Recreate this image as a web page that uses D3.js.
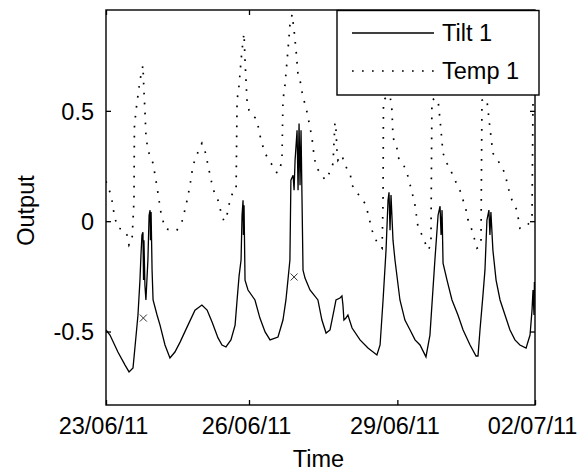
<!DOCTYPE html>
<html>
<head>
<meta charset="utf-8">
<script src="https://cdn.jsdelivr.net/npm/d3@7"></script>
<style>
  html, body { margin: 0; padding: 0; background: #fff; }
  svg { display: block; }
  text { font-family: "Liberation Sans", Arial, sans-serif; fill: #000; }
</style>
</head>
<body>
<div id="chart"></div>
<script>
// ---- data: time in hours since 23/06/11 00:00 ----
const tiltHours = [0,2.0,6.0,9.6,11.6,13.6,14.6,16.1,17.1,17.6,18.1,18.6,18.9,19.1,19.6,20.1,21.1,21.7,22.2,22.4,22.7,23.2,23.7,25.7,27.2,29.7,32.2,34.7,37.3,40.8,44.8,48.3,50.9,53.4,56.4,58.4,60.4,62.9,65.0,66.0,67.0,68.0,68.5,69.0,69.2,69.5,70.0,71.5,75.0,77.5,80.1,82.6,86.6,89.1,90.6,91.6,92.6,93.1,94.2,94.7,95.2,96.2,96.7,97.2,97.7,98.2,99.2,100.2,102.7,106.7,108.7,110.8,112.8,114.8,115.8,117.8,118.8,119.3,119.8,120.8,121.8,123.9,127.9,131.9,136.4,138.0,139.5,141.0,142.0,142.5,143.0,143.5,144.5,145.5,148.0,150.5,153.1,155.6,158.1,161.1,163.1,164.6,165.6,167.2,168.2,168.7,169.2,169.7,171.7,174.2,177.2,179.8,183.3,186.3,187.3,188.3,189.8,190.8,191.8,192.8,193.3,193.8,194.8,196.4,198.4,200.9,203.4,205.9,208.4,211.5,213.5,214.5,215.0,215.5,215.7];
const tiltValues = [-0.493,-0.516,-0.593,-0.652,-0.683,-0.665,-0.570,-0.425,-0.267,-0.154,-0.063,-0.050,-0.267,-0.086,-0.290,-0.357,-0.176,0.027,0.050,-0.086,0.041,-0.222,-0.357,-0.425,-0.471,-0.561,-0.620,-0.593,-0.548,-0.480,-0.403,-0.380,-0.403,-0.457,-0.529,-0.561,-0.570,-0.538,-0.471,-0.357,-0.249,-0.176,0.027,0.095,-0.063,0.072,-0.267,-0.312,-0.357,-0.439,-0.502,-0.538,-0.525,-0.448,-0.357,-0.267,-0.176,0.186,0.208,0.140,0.276,0.412,0.140,0.443,0.163,0.412,-0.222,-0.258,-0.312,-0.357,-0.448,-0.507,-0.493,-0.403,-0.357,-0.348,-0.339,-0.380,-0.448,-0.439,-0.425,-0.484,-0.538,-0.575,-0.606,-0.561,-0.357,-0.131,0.095,0.131,-0.041,0.118,-0.086,-0.176,-0.357,-0.448,-0.493,-0.538,-0.561,-0.615,-0.516,-0.312,-0.176,0.027,0.068,-0.063,0.050,-0.190,-0.267,-0.357,-0.425,-0.493,-0.561,-0.611,-0.611,-0.493,-0.335,-0.222,0.005,0.050,-0.063,0.041,-0.131,-0.267,-0.357,-0.425,-0.493,-0.538,-0.561,-0.575,-0.516,-0.403,-0.312,-0.425,-0.276];

const tempHours = [0,2.0,3.0,3.5,4.5,6.0,8.6,10.6,11.6,13.1,14.1,14.3,15.1,16.1,17.1,18.6,19.1,19.6,20.1,21.1,22.7,23.7,24.7,25.7,26.7,27.7,29.7,32.2,35.7,38.3,40.3,42.3,43.8,45.3,47.3,48.3,49.8,51.4,52.9,54.9,56.4,57.9,59.4,60.9,62.4,63.9,65.5,66.0,67.0,68.0,69.0,69.5,70.0,70.5,71.0,72.0,73.5,75.5,77.0,78.0,80.1,82.6,85.1,86.1,87.6,88.6,89.1,90.1,91.6,92.6,93.7,94.7,95.7,96.7,97.7,99.2,100.7,101.7,102.7,103.7,104.2,105.7,108.3,110.3,113.3,114.3,115.3,115.8,116.3,116.8,118.8,120.3,122.9,123.9,126.4,127.9,130.4,131.9,133.9,136.4,139.0,139.5,139.7,141.5,143.0,144.0,144.5,146.5,147.0,149.5,151.6,154.1,155.6,157.1,159.6,162.1,163.6,164.1,165.6,167.2,168.2,169.7,171.7,174.2,175.7,178.2,179.8,181.3,182.3,184.3,186.8,188.8,189.3,190.8,191.8,193.3,194.8,197.3,200.9,202.4,204.4,206.9,208.4,211.0,213.5,214.5,215.0,216.0];
const tempValues = [0.181,0.131,0.095,0.063,0.014,-0.032,-0.036,-0.063,-0.109,-0.086,0.095,0.425,0.502,0.570,0.638,0.706,0.593,0.502,0.389,0.321,0.285,0.262,0.208,0.154,0.095,0.036,-0.032,-0.041,-0.041,0.000,0.072,0.163,0.253,0.290,0.335,0.353,0.321,0.253,0.186,0.118,0.095,0.041,0.000,0.027,0.095,0.131,0.140,0.548,0.615,0.729,0.819,0.851,0.729,0.638,0.548,0.502,0.480,0.466,0.416,0.367,0.308,0.267,0.240,0.217,0.240,0.276,0.548,0.615,0.774,0.887,0.937,0.864,0.774,0.661,0.638,0.561,0.516,0.471,0.425,0.380,0.335,0.244,0.217,0.186,0.231,0.262,0.448,0.412,0.321,0.276,0.299,0.253,0.217,0.163,0.131,0.109,0.081,0.036,-0.041,-0.095,-0.122,0.095,0.548,0.566,0.570,0.502,0.380,0.330,0.290,0.262,0.217,0.131,0.072,-0.027,-0.072,-0.131,-0.109,0.548,0.557,0.548,0.457,0.308,0.262,0.217,0.186,0.140,0.095,0.050,0.005,-0.041,-0.122,-0.109,0.548,0.557,0.548,0.425,0.308,0.276,0.217,0.154,0.095,0.050,-0.032,-0.027,-0.005,0.027,0.548,0.557];

const markHours = [18.8, 94.7];
const markValues = [-0.439, -0.253];

const xTickHours = [0, 72, 146.7, 216];
const xTickLabels = ["23/06/11", "26/06/11", "29/06/11", "02/07/11"];
const yTicks = [-0.5, 0, 0.5];
const yTickLabels = ["-0.5", "0", "0.5"];
const seriesNames = ["Tilt 1", "Temp 1"];

// ---- layout ----
const W = 582, H = 473;
const L = 106, R = 535, T = 10, B = 405;

const svg = d3.select("#chart").append("svg").attr("width", W).attr("height", H);

const x = d3.scaleLinear().domain([0, 216]).range([L, R]);
const y = d3.scaleLinear().domain([-0.833, 0.957]).range([B, T]);

svg.append("rect").attr("x", 0).attr("y", 0).attr("width", W).attr("height", H).attr("fill", "#fff");

svg.append("clipPath").attr("id", "clip").append("rect")
  .attr("x", L).attr("y", T).attr("width", R - L).attr("height", B - T);

const g = svg.append("g").attr("clip-path", "url(#clip)");

const tilt = tiltHours.map((h, i) => [h, tiltValues[i]]);
const temp = tempHours.map((h, i) => [h, tempValues[i]]);
const line = d3.line().x(d => x(d[0])).y(d => y(d[1]));

g.append("path").attr("d", line(temp)).attr("fill", "none")
  .attr("stroke", "#000").attr("stroke-width", 1.7).attr("stroke-dasharray", "1.7,8.3");
g.append("path").attr("d", line(tilt)).attr("fill", "none")
  .attr("stroke", "#000").attr("stroke-width", 1.3);

// x markers
markHours.forEach((h, i) => {
  const cx = x(h), cy = y(markValues[i]), s = 3.5;
  g.append("path").attr("d", `M${cx - s},${cy - s}L${cx + s},${cy + s}M${cx - s},${cy + s}L${cx + s},${cy - s}`)
    .attr("stroke", "#333").attr("stroke-width", 1);
});

// axes
const tickLen = 5;
const xAxisB = d3.axisBottom(x).tickValues(xTickHours).tickSize(-tickLen).tickFormat((d, i) => xTickLabels[i]).tickPadding(12);
const xAxisT = d3.axisTop(x).tickValues(xTickHours).tickSize(-tickLen).tickFormat("");
const yAxisL = d3.axisLeft(y).tickValues(yTicks).tickSize(-tickLen).tickFormat((d, i) => yTickLabels[i]).tickPadding(12);
const yAxisR = d3.axisRight(y).tickValues(yTicks).tickSize(-tickLen).tickFormat("");

function style(sel) {
  sel.select(".domain").remove();
  sel.selectAll(".tick line").attr("stroke", "#000").attr("stroke-width", 1.3);
  sel.selectAll("text").attr("font-family", "Liberation Sans, Arial, sans-serif").attr("font-size", 23.5).attr("fill", "#000");
}
svg.append("g").attr("transform", `translate(0,${B})`).call(xAxisB).call(style)
  .selectAll("text").attr("dx", -3).attr("dy", "0.73em");
svg.append("g").attr("transform", `translate(0,${T})`).call(xAxisT).call(style);
svg.append("g").attr("transform", `translate(${L},0)`).call(yAxisL).call(style)
  .selectAll("text").attr("dy", "0.36em");
svg.append("g").attr("transform", `translate(${R},0)`).call(yAxisR).call(style);

svg.append("rect").attr("x", L).attr("y", T).attr("width", R - L).attr("height", B - T)
  .attr("fill", "none").attr("stroke", "#000").attr("stroke-width", 1.4);

// labels
svg.append("text").attr("x", (L + R) / 2 - 2).attr("y", 467).attr("text-anchor", "middle")
  .attr("font-size", 23.5).text("Time");
svg.append("text").attr("transform", `translate(34,${(T + B) / 2 + 3}) rotate(-90)`)
  .attr("text-anchor", "middle").attr("font-size", 23.5).text("Output");

// legend
const lg = svg.append("g");
lg.append("rect").attr("x", 337).attr("y", 10.5).attr("width", 202).attr("height", 84.5)
  .attr("fill", "#fff").attr("stroke", "#000").attr("stroke-width", 1.4);
const rows = [33, 71];
lg.append("line").attr("x1", 352).attr("x2", 434).attr("y1", rows[0]).attr("y2", rows[0])
  .attr("stroke", "#000").attr("stroke-width", 1.3);
lg.append("line").attr("x1", 352).attr("x2", 434).attr("y1", rows[1]).attr("y2", rows[1])
  .attr("stroke", "#000").attr("stroke-width", 1.7).attr("stroke-dasharray", "1.7,8.3");
seriesNames.forEach((n, i) => {
  lg.append("text").attr("x", 442).attr("y", rows[i]).attr("dy", "0.36em")
    .attr("font-size", 23.5).text(n);
});
</script>
</body>
</html>
